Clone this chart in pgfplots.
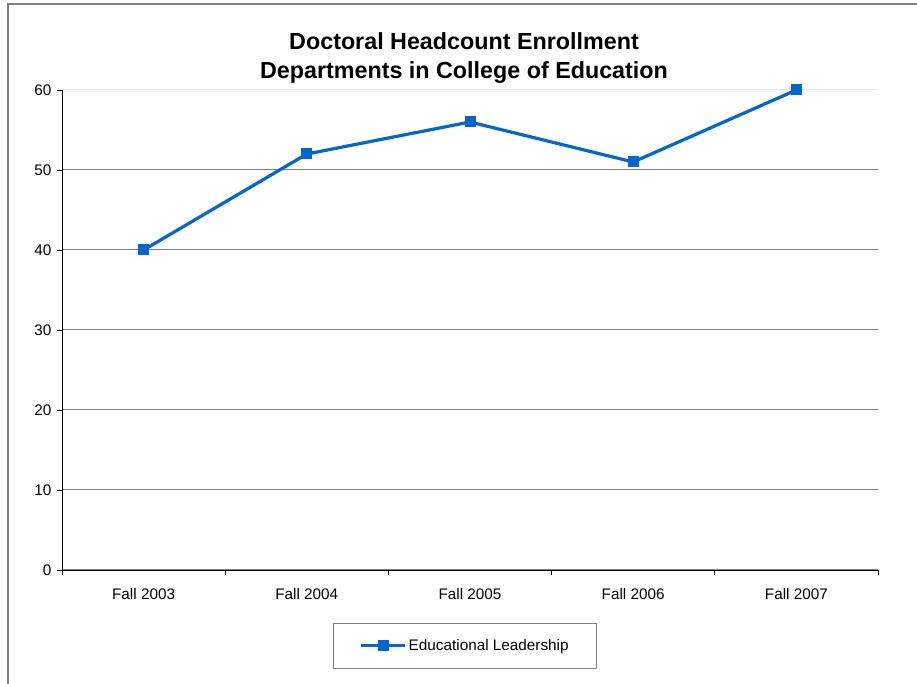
\documentclass[border=0pt]{standalone}
\usepackage{fontspec}
\setmainfont{Liberation Sans}
\usepackage{pgfplots}
\pgfplotsset{compat=1.18}
\definecolor{lineblue}{HTML}{0066CC}
\begin{document}
\begin{tikzpicture}[x=1pt,y=1pt]
\path[use as bounding box] (0,0) rectangle (917,684);
\draw[color=gray, line width=1.3pt] (8,0) -- (8,680) -- (917,680);
\node[align=center, font=\bfseries\fontsize{23.3}{29}\selectfont] at (464,625.5) {Doctoral Headcount Enrollment\\Departments in College of Education};
\begin{axis}[
  at={(62pt,114pt)}, anchor=south west,
  scale only axis, width=816pt, height=480pt,
  xmin=-0.5, xmax=4.5, ymin=0, ymax=60,
  clip=false,
  axis x line*=bottom, axis y line*=left,
  axis line style={black, line width=0.9pt, -},
  tick align=outside,
  major tick length=5pt, minor tick length=5pt,
  tick style={black, line width=0.9pt},
  xtick={0,1,2,3,4},
  xticklabels={Fall 2003,Fall 2004,Fall 2005,Fall 2006,Fall 2007},
  major x tick style={draw=none},
  minor xtick={-0.5,0.5,1.5,2.5,3.5,4.5},
  ytick={0,10,20,30,40,50},
  extra y ticks={60},
  extra y tick style={grid style={gray!20, line width=1pt}},
  ymajorgrids,
  grid style={gray, line width=1pt},
  tick label style={font=\fontsize{15.3}{18}\selectfont},
  /pgf/number format/assume math mode=true,
  xticklabel style={yshift=-10pt},
  yticklabel style={xshift=-2pt},
  legend style={at={(0.494,-0.158)}, anchor=center, draw=gray, line width=0.9pt,
    inner xsep=26pt, inner ysep=14pt, font=\fontsize{15.3}{18}\selectfont},
  legend image code/.code={\draw[mark repeat=2,mark phase=2] plot coordinates {(0pt,0pt) (22pt,0pt) (44pt,0pt)};},
]
\addplot[lineblue, line width=3.2pt, mark=square*, mark size=5pt, mark options={solid, line width=0pt, fill=lineblue}]
  coordinates {(0,40) (1,52) (2,56) (3,51) (4,60)};
\addlegendentry{Educational Leadership}
\end{axis}
\end{tikzpicture}
\end{document}
